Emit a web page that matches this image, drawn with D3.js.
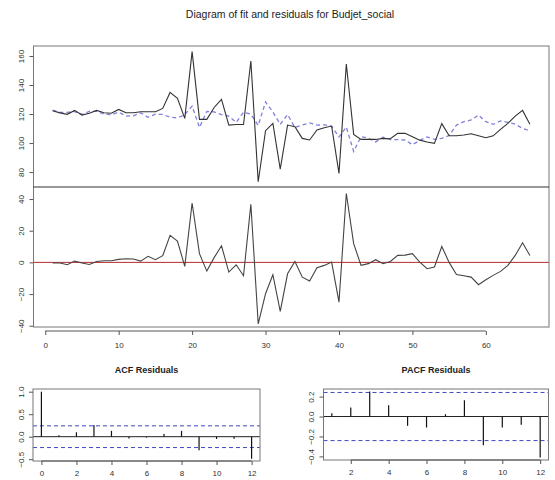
<!DOCTYPE html>
<html>
<head>
<meta charset="utf-8">
<script src="https://cdn.jsdelivr.net/npm/d3@7"></script>
<style>
  body { margin: 0; background: #fff; }
  text { font-family: "Liberation Sans", Arial, sans-serif; }
</style>
</head>
<body>
<div id="chart"></div>
<script>
// values (t = 1..66)
const actual = [122.3, 120.8, 119.8, 122.5, 119.3, 120.5, 122.5, 120.9, 120.5, 123.2,
  120.9, 120.9, 121.6, 121.6, 121.6, 123.9, 134.9, 130.8, 117.0, 163.0,
  116.3, 116.3, 124.5, 130.1, 112.4, 112.8, 112.8, 156.6, 73.3, 108.5,
  113.6, 82.0, 112.4, 111.3, 103.2, 102.1, 109.0, 110.6, 111.7, 79.1,
  154.5, 106.0, 102.5, 102.5, 102.5, 103.2, 103.0, 106.7, 106.7, 104.4,
  102.0, 100.7, 99.8, 113.4, 105.0, 105.0, 105.5, 106.4, 105.0, 103.7,
  105.0, 109.4, 113.6, 118.6, 122.5, 113.0]
const fitted = [122.7, 121.2, 121.2, 121.7, 119.7, 121.8, 121.9, 119.9, 119.5, 121.3,
  118.6, 118.8, 120.8, 117.8, 119.9, 119.7, 117.8, 117.3, 119.5, 125.5,
  110.8, 121.8, 121.5, 119.6, 118.5, 114.3, 121.2, 119.9, 112.1, 128.3,
  121.4, 112.9, 119.6, 110.7, 112.5, 113.9, 112.4, 112.5, 111.5, 104.2,
  111.0, 94.2, 104.4, 103.3, 100.8, 104.0, 102.4, 102.3, 102.1, 98.9,
  101.8, 104.2, 102.6, 103.2, 105.2, 112.4, 114.7, 115.9, 119.3, 114.7,
  112.9, 115.2, 114.3, 113.0, 110.1, 108.3]
const residuals = [-0.4, -0.4, -1.5, 0.8, -0.4, -1.3, 0.6, 1.0, 1.0, 1.9,
  2.3, 2.1, 0.8, 3.8, 1.7, 4.2, 17.1, 13.5, -2.5, 37.5,
  5.5, -5.5, 3.0, 10.5, -6.1, -1.5, -8.4, 36.7, -38.8, -19.8,
  -7.8, -30.9, -7.2, 0.6, -9.3, -11.8, -3.4, -1.9, 0.2, -25.1,
  43.5, 11.8, -1.9, -0.8, 1.7, -0.8, 0.6, 4.4, 4.6, 5.5,
  0.2, -4.0, -2.9, 10.0, 0.0, -7.6, -8.4, -9.3, -14.1, -11.0,
  -8.2, -5.7, -1.9, 4.4, 12.4, 4.4]

const acfLags = [0, 1, 2, 3, 4, 5, 6, 7, 8, 9, 10, 11, 12]
const acfValues = [1.0, 0.03, 0.1, 0.26, 0.13, -0.04, -0.02, 0.06, 0.13, -0.3, -0.05, -0.045, -0.49]
const pacfLags = [1, 2, 3, 4, 5, 6, 7, 8, 9, 10, 11, 12]
const pacfValues = [0.033, 0.09, 0.25, 0.113, -0.093, -0.11, 0.023, 0.163, -0.287, -0.11, -0.083, -0.41]
const confLimit = 0.2413

const timeTicks = [0, 10, 20, 30, 40, 50, 60]
const fitTicks = [80, 100, 120, 140, 160]
const residTicks = [-40, -20, 0, 20, 40]
const acfXTicks = [0, 2, 4, 6, 8, 10, 12]
const acfYTicks = [-0.5, 0, 0.5, 1]
const pacfXTicks = [2, 4, 6, 8, 10, 12]
const pacfYTicks = [-0.4, -0.2, 0, 0.2]

const W = 555, H = 480
const ink = "#333", frame = "#777", axisCol = "#555"

const svg = d3.select("#chart").append("svg")
  .attr("width", W).attr("height", H)
svg.append("rect").attr("width", W).attr("height", H).attr("fill", "#fff")

const t = d3.range(1, actual.length + 1)

// shared x scale for the two upper panels
const x = d3.scaleLinear().domain([-1.6, 68.6]).range([33.5, 549])
const yFit = d3.scaleLinear().domain([69.7, 166.9]).range([187, 46])
const yRes = d3.scaleLinear().domain([-40.8, 47.6]).range([327, 187])

function styleAxis(g) {
  g.select(".domain").remove()
  g.selectAll(".tick line").attr("stroke", axisCol)
  g.selectAll(".tick text").attr("fill", ink).style("font-size", "8px")
}

// left axis with R-style vertical labels
function leftAxis(scale, ticks, x0, fmt) {
  const g = svg.append("g")
    .attr("transform", "translate(" + x0 + ",0)")
    .call(d3.axisLeft(scale).tickValues(ticks).tickSize(4).tickFormat(fmt))
  styleAxis(g)
  g.selectAll(".tick text")
    .attr("transform", "rotate(-90)")
    .attr("x", 0).attr("y", -9.5).attr("dy", 0)
    .style("text-anchor", "middle")
  return g
}

function bottomAxis(scale, ticks, y0, pad) {
  const g = svg.append("g")
    .attr("transform", "translate(0," + y0 + ")")
    .call(d3.axisBottom(scale).tickValues(ticks).tickSize(4).tickPadding(pad))
  styleAxis(g)
  g.append("line")
    .attr("x1", scale(ticks[0])).attr("x2", scale(ticks[ticks.length - 1]))
    .attr("stroke", axisCol)
  return g
}

// title
svg.append("text")
  .attr("x", 290).attr("y", 18)
  .attr("text-anchor", "middle")
  .attr("fill", "#222")
  .style("font-size", "10.5px")
  .text("Diagram of fit and residuals for Budjet_social")

// ---- fit panel
svg.append("path")
  .datum(t)
  .attr("fill", "none")
  .attr("stroke", "#8080dc")
  .attr("stroke-width", 1.3)
  .attr("stroke-dasharray", "4,3")
  .attr("d", d3.line().x(d => x(d)).y(d => yFit(fitted[d - 1])))

svg.append("path")
  .datum(t)
  .attr("fill", "none")
  .attr("stroke", "#333")
  .attr("stroke-width", 1.1)
  .attr("d", d3.line().x(d => x(d)).y(d => yFit(actual[d - 1])))

leftAxis(yFit, fitTicks, 33.5, d3.format("d"))

// ---- residual panel
svg.append("line")
  .attr("x1", x.range()[0]).attr("x2", x.range()[1])
  .attr("y1", yRes(0)).attr("y2", yRes(0))
  .attr("stroke", "#b82828").attr("stroke-width", 1)

svg.append("path")
  .datum(t)
  .attr("fill", "none")
  .attr("stroke", "#444")
  .attr("stroke-width", 1.1)
  .attr("d", d3.line().x(d => x(d)).y(d => yRes(residuals[d - 1])))

leftAxis(yRes, residTicks, 33.5, d3.format("d"))
bottomAxis(x, timeTicks, 331, 7)

// frames
svg.append("rect")
  .attr("x", 33.5).attr("y", 46).attr("width", 515.5).attr("height", 281)
  .attr("fill", "none").attr("stroke", frame)
svg.append("line")
  .attr("x1", 33.5).attr("x2", 549).attr("y1", 187).attr("y2", 187)
  .attr("stroke", "#333").attr("stroke-width", 1.2)

// ---- correlogram panels
function correlogram(lags, values, xDom, xRange, yDom, yRange, xTicks, yTicks, title) {
  const cx = d3.scaleLinear().domain(xDom).range(xRange)
  const cy = d3.scaleLinear().domain(yDom).range(yRange)

  svg.append("text")
    .attr("x", (xRange[0] + xRange[1]) / 2).attr("y", 373)
    .attr("text-anchor", "middle")
    .attr("fill", "#222")
    .style("font-size", "9px").style("font-weight", "bold")
    .text(title)

  svg.append("g").selectAll("line")
    .data([confLimit, -confLimit])
    .join("line")
    .attr("x1", xRange[0]).attr("x2", xRange[1])
    .attr("y1", d => cy(d)).attr("y2", d => cy(d))
    .attr("stroke", "#4545c0").attr("stroke-width", 1)
    .attr("stroke-dasharray", "4,3")

  svg.append("line")
    .attr("x1", xRange[0]).attr("x2", xRange[1])
    .attr("y1", cy(0)).attr("y2", cy(0))
    .attr("stroke", "#222")

  svg.append("g").selectAll("line")
    .data(lags)
    .join("line")
    .attr("x1", d => cx(d)).attr("x2", d => cx(d))
    .attr("y1", cy(0)).attr("y2", (d, i) => cy(values[i]))
    .attr("stroke", "#111").attr("stroke-width", 1.2)

  svg.append("rect")
    .attr("x", xRange[0]).attr("y", yRange[1])
    .attr("width", xRange[1] - xRange[0]).attr("height", yRange[0] - yRange[1])
    .attr("fill", "none").attr("stroke", frame)

  leftAxis(cy, yTicks, xRange[0], d3.format(".1f"))
  bottomAxis(cx, xTicks, yRange[0], 5)
}

correlogram(acfLags, acfValues, [-0.48, 12.48], [33, 260], [-0.54, 1.06], [461, 389],
  acfXTicks, acfYTicks, "ACF Residuals")
correlogram(pacfLags, pacfValues, [0.56, 12.44], [323.5, 548.5], [-0.436, 0.276], [460, 389],
  pacfXTicks, pacfYTicks, "PACF Residuals")
</script>
</body>
</html>
